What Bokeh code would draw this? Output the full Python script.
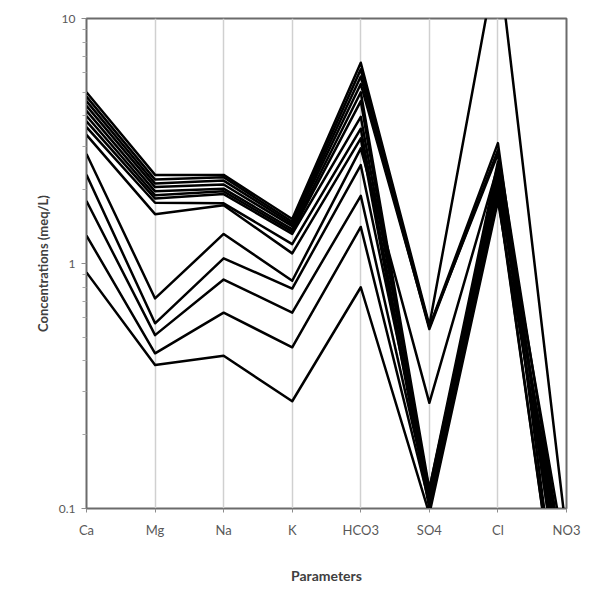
from bokeh.plotting import figure
from bokeh.models import FixedTicker, Range1d
from bokeh.embed import file_html
from bokeh.resources import INLINE

params = ["Ca", "Mg", "Na", "K", "HCO3", "SO4", "Cl", "NO3"]

# Schoeller diagram samples (meq/L), order follows params
s01 = [5.0, 2.30, 2.30, 1.52, 6.6, 0.56, 18.5, 0.078]
s02 = [4.8, 2.20, 2.25, 1.48, 6.2, 0.55, 3.10, 0.030]
s03 = [4.6, 2.12, 2.18, 1.45, 5.8, 0.54, 2.90, 0.050]
s04 = [4.4, 2.05, 2.10, 1.42, 5.4, 0.55, 2.80, 0.020]
s05 = [4.2, 1.97, 2.02, 1.38, 5.0, 0.12, 2.60, 0.040]
s06 = [4.0, 1.90, 1.97, 1.35, 4.6, 0.11, 2.45, 0.060]
s07 = [3.8, 1.84, 1.92, 1.32, 3.97, 0.115, 2.25, 0.030]
s08 = [3.6, 1.77, 1.76, 1.20, 3.55, 0.105, 2.05, 0.050]
s09 = [3.35, 1.59, 1.73, 1.10, 3.24, 0.10, 1.90, 0.020]
s10 = [2.8, 0.72, 1.32, 0.85, 2.95, 0.27, 2.50, 0.040]
s11 = [2.3, 0.57, 1.05, 0.79, 2.52, 0.12, 2.30, 0.030]
s12 = [1.8, 0.51, 0.86, 0.63, 1.89, 0.11, 2.10, 0.050]
s13 = [1.3, 0.43, 0.63, 0.455, 1.41, 0.105, 1.95, 0.020]
s14 = [0.92, 0.385, 0.42, 0.274, 0.80, 0.095, 1.80, 0.040]

samples = [s01, s02, s03, s04, s05, s06, s07, s08, s09, s10, s11, s12, s13, s14]

y_major = [0.1, 1, 10]
y_minor = [0.2, 0.3, 0.4, 0.5, 0.6, 0.7, 0.8, 0.9, 2, 3, 4, 5, 6, 7, 8, 9]

FONT = "Lato"
xpos = list(range(len(params)))

p = figure(width=590, height=586, y_axis_type="log",
           x_range=Range1d(0, len(params) - 1), y_range=Range1d(0.1, 10),
           output_backend="svg", toolbar_location=None,
           min_border_left=86, min_border_right=24,
           min_border_top=18, min_border_bottom=70)

for s in samples:
    p.line(xpos, s, line_color="black", line_width=2.5, line_join="round")

p.outline_line_color = "#6b6b6b"
p.outline_line_width = 2
p.background_fill_color = "white"
p.border_fill_color = "white"

# x axis
p.xaxis.ticker = FixedTicker(ticks=xpos)
p.xaxis.major_label_overrides = {i: n for i, n in enumerate(params)}
p.xaxis.axis_label = "Parameters"
p.xaxis.axis_label_text_font = FONT
p.xaxis.axis_label_text_font_style = "bold"
p.xaxis.axis_label_text_font_size = "14px"
p.xaxis.axis_label_text_color = "#404040"
p.xaxis.axis_label_standoff = 26
p.xaxis.major_label_text_font = FONT
p.xaxis.major_label_text_font_size = "13px"
p.xaxis.major_label_text_color = "#595959"
p.xaxis.major_label_standoff = 9
p.xaxis.axis_line_color = "#6b6b6b"
p.xaxis.major_tick_line_color = "#8c8c8c"
p.xaxis.major_tick_out = 4
p.xaxis.major_tick_in = 0
p.xaxis.minor_tick_line_color = None

# y axis
p.yaxis.ticker = FixedTicker(ticks=y_major, minor_ticks=y_minor)
p.yaxis.major_label_overrides = {0.1: "0.1", 1: "1", 10: "10"}
p.yaxis.axis_label = "Concentrations (meq/L)"
p.yaxis.axis_label_text_font = FONT
p.yaxis.axis_label_text_font_style = "bold"
p.yaxis.axis_label_text_font_size = "13px"
p.yaxis.axis_label_text_color = "#404040"
p.yaxis.axis_label_standoff = 5
p.yaxis.major_label_text_font = FONT
p.yaxis.major_label_text_font_size = "12px"
p.yaxis.major_label_text_color = "#595959"
p.yaxis.major_label_standoff = 6
p.yaxis.axis_line_color = "#6b6b6b"
p.yaxis.major_tick_line_color = "#8c8c8c"
p.yaxis.major_tick_out = 5
p.yaxis.major_tick_in = 0
p.yaxis.minor_tick_line_color = "#a6a6a6"
p.yaxis.minor_tick_out = 4
p.yaxis.minor_tick_in = 0

# grids
p.xgrid.ticker = FixedTicker(ticks=xpos)
p.xgrid.grid_line_color = "#d0d0d0"
p.xgrid.grid_line_width = 1.5
p.ygrid.grid_line_color = None

open("out.html", "w").write(file_html(p, INLINE))
